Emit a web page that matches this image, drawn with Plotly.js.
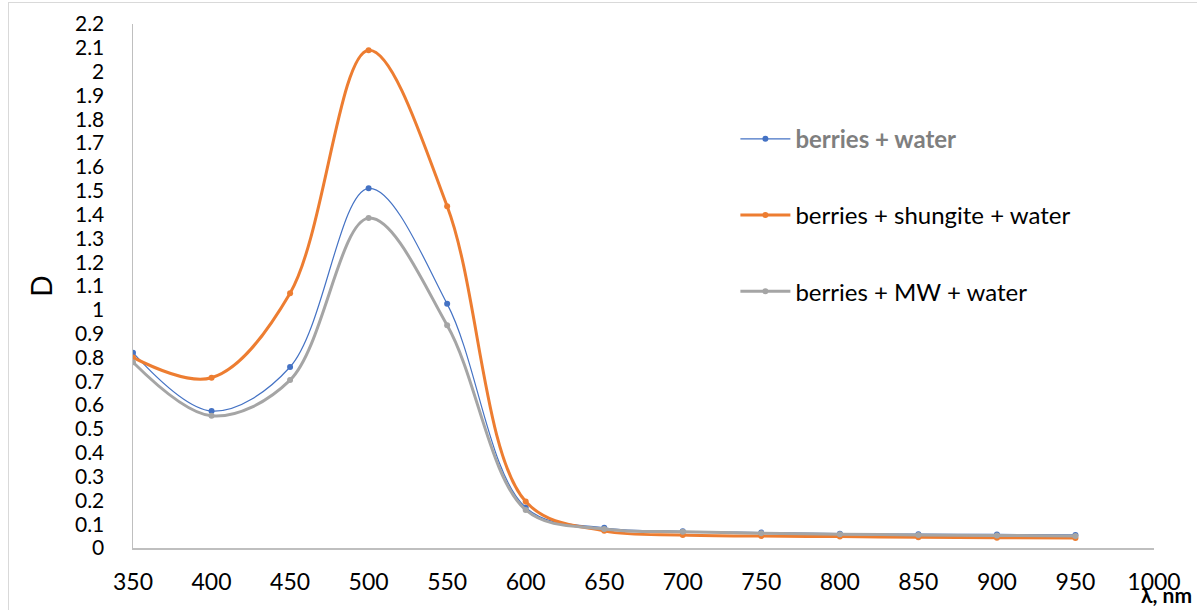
<!DOCTYPE html>
<html><head><meta charset="utf-8">
<script src="https://cdn.plot.ly/plotly-3.0.1.min.js"></script>
<style>
html,body{margin:0;padding:0;background:#fff;}
#frame{position:absolute;left:8px;top:2px;width:1300px;height:700px;border:1px solid #d9d9d9;box-sizing:border-box;}
#chart{position:absolute;left:0;top:0;width:1197px;height:610px;}
</style></head>
<body>
<div id="frame"></div>
<div id="chart"></div>
<script>
const wavelengths = [350,400,450,500,550,600,650,700,750,800,850,900,950];
const berriesWater = [0.82,0.575,0.76,1.51,1.025,0.17,0.085,0.07,0.065,0.06,0.058,0.057,0.055];
const berriesShungiteWater = [0.80,0.715,1.07,2.09,1.435,0.195,0.072,0.055,0.05,0.048,0.045,0.043,0.042];
const berriesMWWater = [0.78,0.555,0.705,1.385,0.935,0.16,0.08,0.068,0.062,0.058,0.055,0.053,0.05];
const seriesNames = ['berries + water','berries + shungite + water','berries + MW + water'];
const yTickVals = [0,0.1,0.2,0.3,0.4,0.5,0.6,0.7,0.8,0.9,1,1.1,1.2,1.3,1.4,1.5,1.6,1.7,1.8,1.9,2,2.1,2.2];
const yTickText = ['0','0.1','0.2','0.3','0.4','0.5','0.6','0.7','0.8','0.9','1','1.1','1.2','1.3','1.4','1.5','1.6','1.7','1.8','1.9','2','2.1','2.2'];
const xTickVals = [350,400,450,500,550,600,650,700,750,800,850,900,950,1000];

const FONT = 'Lato, "Open Sans", sans-serif';
const traces = [
  {x: wavelengths, y: berriesWater, name: '<b><span style="color:#7f7f7f">'+seriesNames[0]+'</span></b>', legendgroup:'a',
   mode:'lines+markers', line:{color:'#4472c4', width:1.2, shape:'spline', smoothing:1}, marker:{color:'#4472c4', size:6}},
  {x: wavelengths, y: berriesShungiteWater, name: seriesNames[1], legendgroup:'b',
   mode:'lines+markers', line:{color:'#ed7d31', width:3, shape:'spline', smoothing:1}, marker:{color:'#ed7d31', size:6}},
  {x: wavelengths, y: berriesMWWater, name: seriesNames[2], legendgroup:'c',
   mode:'lines+markers', line:{color:'#a5a5a5', width:3, shape:'spline', smoothing:1}, marker:{color:'#a5a5a5', size:6}}
];
const layout = {
  width:1197, height:610,
  margin:{l:133, r:43, t:24, b:62},
  paper_bgcolor:'rgba(0,0,0,0)', plot_bgcolor:'rgba(0,0,0,0)',
  font:{family:FONT, color:'#000', size:20},
  showlegend:true,
  legend:{x:0.590, y:0.823, xanchor:'left', yanchor:'top', font:{size:24, family:FONT, color:'#000'},
          tracegroupgap:42, itemwidth:50, bgcolor:'rgba(0,0,0,0)'},
  xaxis:{range:[350,1000], tickvals:xTickVals, showgrid:false, zeroline:false,
         showline:true, linecolor:'#bfbfbf', linewidth:1.5, ticks:'', ticklabelstandoff:13,
         tickfont:{size:23, family:FONT}},
  yaxis:{range:[0,2.2], tickvals:yTickVals, ticktext:yTickText, showgrid:false, zeroline:false,
         showline:true, linecolor:'#bfbfbf', linewidth:1.5, ticks:'', ticklabelstandoff:23,
         tickfont:{size:21, family:FONT},
         title:{text:'D', font:{size:28, family:FONT}, standoff:14}},
  annotations:[{xref:'paper', yref:'paper', x:1.0, y:-0.116, xanchor:'left', yanchor:'bottom', xshift:-15,
    text:'<b>λ, nm</b>', showarrow:false, font:{size:21, family:FONT, color:'#000'}}]
};
Plotly.newPlot('chart', traces, layout, {displayModeBar:false, staticPlot:true});
</script>
</body></html>
